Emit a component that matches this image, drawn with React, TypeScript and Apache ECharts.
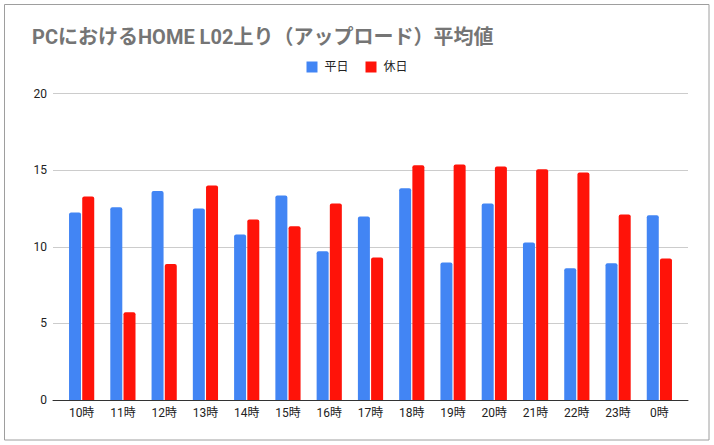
import React, { useEffect, useRef } from "react";
import * as echarts from "echarts";

const categories = ["10時", "11時", "12時", "13時", "14時", "15時", "16時", "17時", "18時", "19時", "20時", "21時", "22時", "23時", "0時"];
const weekday = [12.24, 12.57, 13.63, 12.5, 10.8, 13.35, 9.7, 11.98, 13.81, 8.98, 12.83, 10.28, 8.59, 8.92, 12.05];
const holiday = [13.28, 5.72, 8.87, 14.0, 11.78, 11.33, 12.83, 9.3, 15.31, 15.37, 15.24, 15.05, 14.85, 12.11, 9.24];
const yTicks = { min: 0, max: 20, interval: 5 };
const titleText = "PCにおけるHOME L02上り（アップロード）平均値";
const seriesNames = ["平日", "休日"];

export default function App() {
  const ref = useRef<HTMLDivElement>(null);
  useEffect(() => {
    document.body.style.margin = "0";
    const chart = echarts.init(ref.current!, null, { renderer: "svg" });
    const font = "Roboto, 'Noto Sans CJK JP', sans-serif";
    chart.setOption({
      animation: false,
      backgroundColor: "#fff",
      textStyle: { fontFamily: font },
      title: {
        text: titleText,
        left: 27,
        top: 22,
        textStyle: { fontSize: 20, fontWeight: "bold", color: "#757575", fontFamily: font },
      },
      legend: {
        left: "center",
        top: 56,
        itemWidth: 11,
        itemHeight: 11,
        itemGap: 17,
        icon: "rect",
        textStyle: { fontSize: 12, color: "#222", fontFamily: font, padding: [0, 0, 0, 2] },
        data: seriesNames,
      },
      graphic: [
        {
          type: "rect",
          shape: { x: 4.5, y: 4.5, width: 704.5, height: 435.5 },
          style: { fill: "none", stroke: "#9e9e9e", lineWidth: 1 },
          silent: true,
        },
      ],
      grid: [
        { left: 53, right: 26, top: 93.5, bottom: 45 },
        { left: 61, right: 34, top: 93.5, bottom: 45 },
      ],
      xAxis: [
        {
          gridIndex: 0,
          type: "value",
          min: 0,
          max: 1,
          axisTick: { show: false },
          axisLabel: { show: false },
          splitLine: { show: false },
          axisLine: { show: true, onZero: false, lineStyle: { color: "#333", width: 1 } },
        },
        {
          gridIndex: 1,
          type: "category",
          data: categories,
          axisTick: { show: false },
          axisLine: { show: false },
          axisLabel: { color: "#222", fontSize: 12, margin: 7, interval: 0 },
        },
      ],
      yAxis: [
        {
          gridIndex: 0,
          type: "value",
          min: yTicks.min,
          max: yTicks.max,
          interval: yTicks.interval,
          axisLine: { show: false },
          axisTick: { show: false },
          axisLabel: { color: "#222", fontSize: 12, margin: 6 },
          splitLine: { lineStyle: { color: "#cccccc", width: 1 } },
        },
        {
          gridIndex: 1,
          type: "value",
          min: yTicks.min,
          max: yTicks.max,
          interval: yTicks.interval,
          axisLine: { show: false },
          axisTick: { show: false },
          axisLabel: { show: false },
          splitLine: { show: false },
        },
      ],
      series: [
        {
          name: seriesNames[0],
          type: "bar",
          xAxisIndex: 1,
          yAxisIndex: 1,
          data: weekday,
          barWidth: 12,
          barGap: "10%",
          itemStyle: { color: "#4285f4", borderRadius: [2, 2, 0, 0] },
        },
        {
          name: seriesNames[1],
          type: "bar",
          xAxisIndex: 1,
          yAxisIndex: 1,
          data: holiday,
          barWidth: 12,
          barGap: "10%",
          itemStyle: { color: "#ff1309", borderRadius: [2, 2, 0, 0] },
        },
      ],
    });
    return () => chart.dispose();
  }, []);
  return <div ref={ref} style={{ width: 714, height: 445, position: "absolute", left: 0, top: 0 }} />;
}
